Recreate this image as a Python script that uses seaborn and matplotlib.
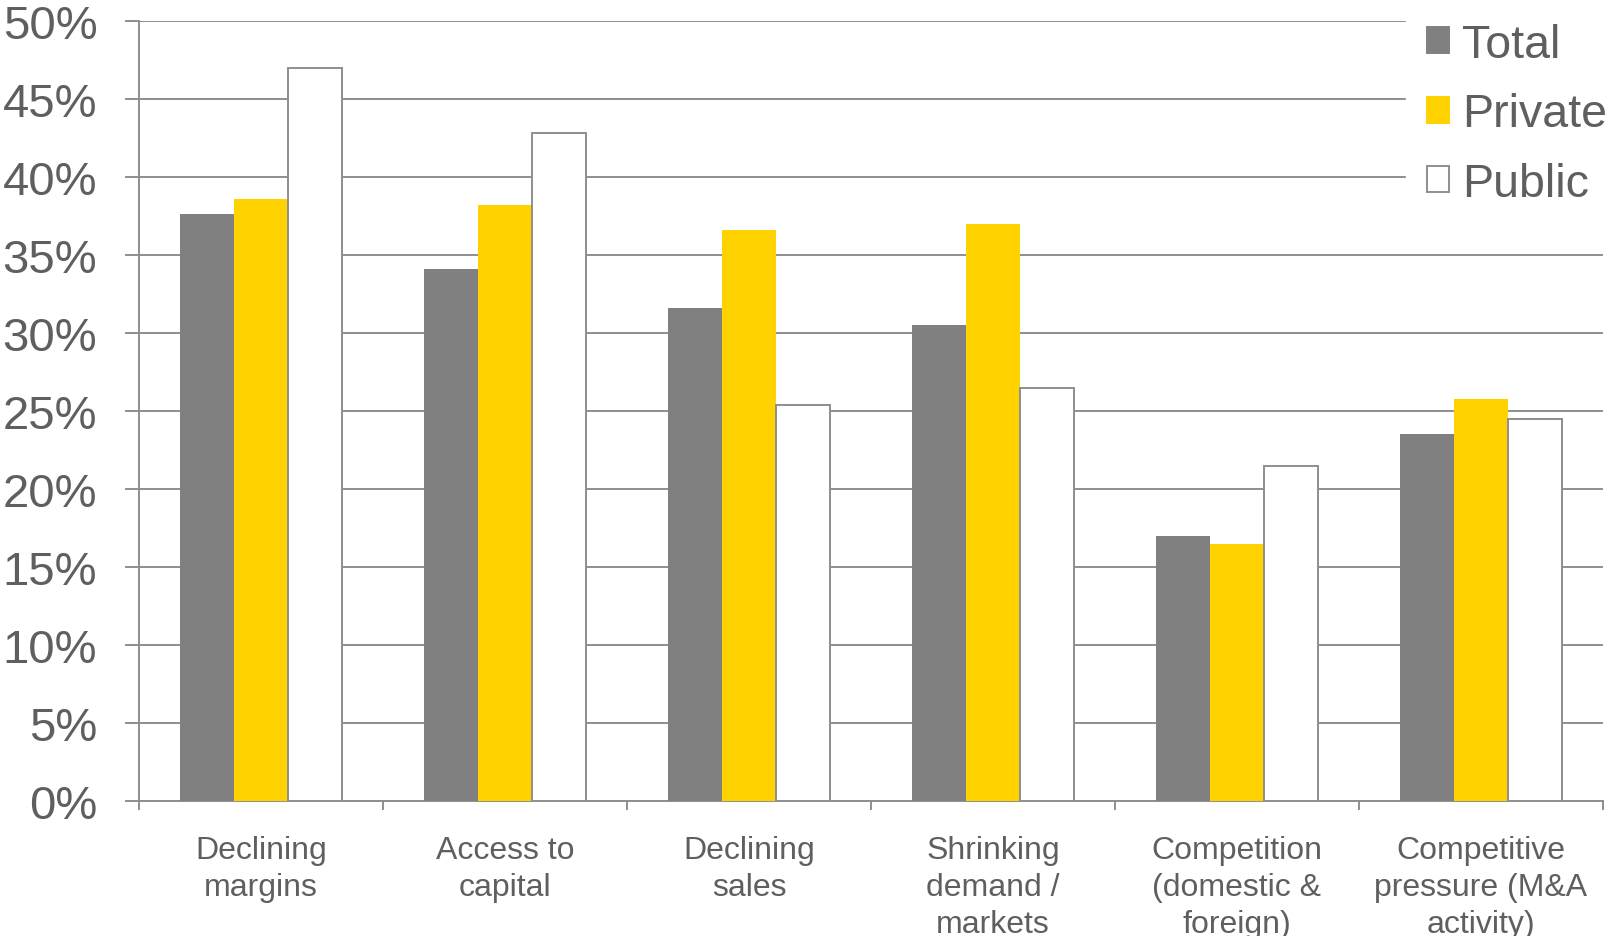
import pandas as pd
import numpy as np
import matplotlib
matplotlib.use('Agg')
import matplotlib.pyplot as plt
import seaborn as sns

# Chart data
categories = ['Declining\nmargins', 'Access to\ncapital', 'Declining\nsales',
              'Shrinking\ndemand /\nmarkets', 'Competition\n(domestic &\nforeign)',
              'Competitive\npressure (M&A\nactivity)']
groups = ['Total', 'Private', 'Public']
total = [37.6, 34.1, 31.6, 30.5, 17.0, 23.5]
private = [38.6, 38.2, 36.6, 37.0, 16.5, 25.8]
public = [47.0, 42.8, 25.4, 26.5, 21.5, 24.5]
y_ticks = [0, 5, 10, 15, 20, 25, 30, 35, 40, 45, 50]

colors = {'Total': '#808080', 'Private': '#FFD200', 'Public': '#FFFFFF'}
text_col = '#5f5f5f'
grid_col = '#8e8e8e'

rows = []
for g, vals in zip(groups, [total, private, public]):
    for c, v in zip(categories, vals):
        rows.append({'category': c, 'group': g, 'value': v})
df = pd.DataFrame(rows)

sns.set_style('white')
plt.rcParams['font.family'] = ['Liberation Sans', 'DejaVu Sans']

fig = plt.figure(figsize=(16.14, 9.37), dpi=100)
ax = fig.add_axes([139 / 1614, 1 - 802 / 937, (1603 - 139) / 1614, (802 - 22) / 937])

sns.barplot(data=df, x='category', y='value', hue='group', order=categories,
            hue_order=groups, palette=colors, width=0.66, linewidth=0,
            saturation=1, ax=ax, zorder=3)

# outline for the white "Public" bars
for patch in ax.containers[2]:
    patch.set_edgecolor(grid_col)
    patch.set_linewidth(1.4)

ax.set_ylim(0, 50)
ax.set_xlim(-0.5, len(categories) - 0.5)
ax.set_yticks(y_ticks)
ax.set_yticklabels([f'{t}%' for t in y_ticks])
ax.yaxis.grid(True, color=grid_col, linewidth=1.4, zorder=0)
ax.xaxis.grid(False)
ax.set_axisbelow(True)

# x ticks at category boundaries, labels at centres
ax.set_xticks(np.arange(-0.5, len(categories), 1.0))
ax.set_xticklabels([''] * (len(categories) + 1))
ax.set_xticks(np.arange(len(categories)), minor=True)
ax.set_xticklabels(categories, minor=True, fontsize=23, color=text_col,
                   linespacing=1.3, va='top')
ax.tick_params(axis='x', which='major', length=6.5, width=1.4, color=grid_col,
               direction='out', bottom=True)
ax.tick_params(axis='x', which='minor', length=0, pad=24.5)
ax.tick_params(axis='y', length=10, width=1.4, color=grid_col, direction='out',
               left=True, pad=20, labelsize=34, labelcolor=text_col)

ax.set_xlabel('')
ax.set_ylabel('')
for s in ['top', 'right']:
    ax.spines[s].set_visible(False)
for s in ['left', 'bottom']:
    ax.spines[s].set_color(grid_col)
    ax.spines[s].set_linewidth(1.4)

ax.get_legend().remove()
handles = [plt.Rectangle((0, 0), 1, 1, facecolor=colors[g],
                         edgecolor=grid_col if g == 'Public' else colors[g],
                         linewidth=1.4) for g in groups]
leg = ax.legend(handles, groups, loc='upper left', bbox_to_anchor=(1406 / 1614, 0.997),
                bbox_transform=fig.transFigure, frameon=True, framealpha=1,
                edgecolor='white', facecolor='white', fontsize=33.5,
                handlelength=0.48, handleheight=0.48, handletextpad=0.28,
                labelspacing=0.55, borderpad=0.45, borderaxespad=0, fancybox=False)
for t in leg.get_texts():
    t.set_color(text_col)
leg.set_zorder(5)

fig.savefig('out.png', dpi=100)
